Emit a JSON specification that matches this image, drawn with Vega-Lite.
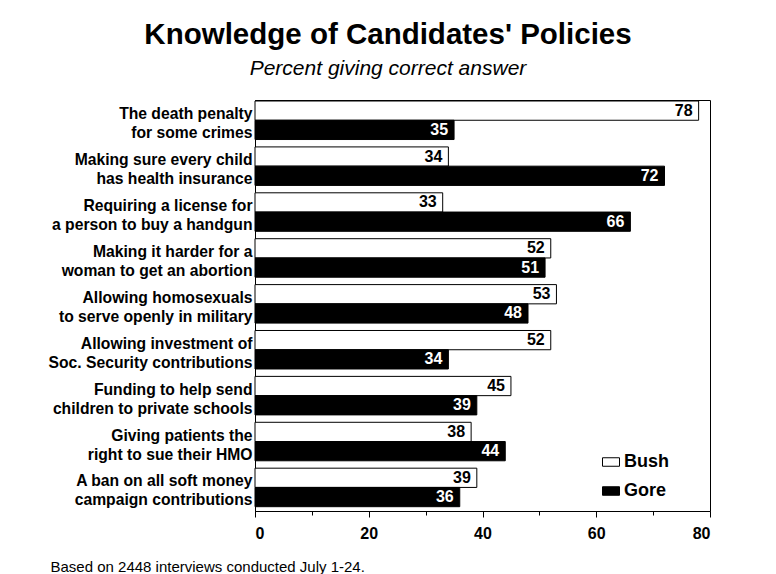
{
  "$schema": "https://vega.github.io/schema/vega-lite/v6.json",
  "width": 455,
  "height": 411,
  "autosize": {"type": "none"},
  "padding": {"left": 255, "top": 100, "right": 66, "bottom": 63},
  "background": "white",
  "title": {
    "text": "Knowledge of Candidates' Policies",
    "subtitle": "Percent giving correct answer",
    "fontSize": 29.5,
    "fontWeight": "bold",
    "subtitleFontSize": 21,
    "subtitleFontStyle": "italic",
    "anchor": "middle",
    "dx": -94.5,
    "offset": 20,
    "color": "black",
    "subtitleColor": "black",
    "subtitlePadding": 8
  },
  "data": {
    "values": [
      {"issue": "The death penalty|for some crimes", "candidate": "Bush", "pct": 78},
      {"issue": "The death penalty|for some crimes", "candidate": "Gore", "pct": 35},
      {"issue": "Making sure every child|has health insurance", "candidate": "Bush", "pct": 34},
      {"issue": "Making sure every child|has health insurance", "candidate": "Gore", "pct": 72},
      {"issue": "Requiring a license for|a person to buy a handgun", "candidate": "Bush", "pct": 33},
      {"issue": "Requiring a license for|a person to buy a handgun", "candidate": "Gore", "pct": 66},
      {"issue": "Making it harder for a|woman to get an abortion", "candidate": "Bush", "pct": 52},
      {"issue": "Making it harder for a|woman to get an abortion", "candidate": "Gore", "pct": 51},
      {"issue": "Allowing homosexuals|to serve openly in military", "candidate": "Bush", "pct": 53},
      {"issue": "Allowing homosexuals|to serve openly in military", "candidate": "Gore", "pct": 48},
      {"issue": "Allowing investment of|Soc. Security contributions", "candidate": "Bush", "pct": 52},
      {"issue": "Allowing investment of|Soc. Security contributions", "candidate": "Gore", "pct": 34},
      {"issue": "Funding to help send|children to private schools", "candidate": "Bush", "pct": 45},
      {"issue": "Funding to help send|children to private schools", "candidate": "Gore", "pct": 39},
      {"issue": "Giving patients the|right to sue their HMO", "candidate": "Bush", "pct": 38},
      {"issue": "Giving patients the|right to sue their HMO", "candidate": "Gore", "pct": 44},
      {"issue": "A ban on all soft money|campaign contributions", "candidate": "Bush", "pct": 39},
      {"issue": "A ban on all soft money|campaign contributions", "candidate": "Gore", "pct": 36}
    ]
  },
  "encoding": {
    "y": {
      "field": "issue",
      "type": "nominal",
      "sort": null,
      "scale": {"paddingInner": 0.161, "paddingOuter": 0.058, "align": 0.19},
      "axis": {
        "title": null,
        "ticks": false,
        "domain": true,
        "domainColor": "black",
        "labelFontSize": 15.7,
        "labelFontWeight": "bold",
        "labelColor": "black",
        "labelLimit": 300,
        "labelPadding": 3,
        "labelOffset": -6,
        "labelExpr": "split(datum.label, '|')",
        "labelLineHeight": 19
      }
    },
    "yOffset": {"field": "candidate", "type": "nominal", "sort": ["Bush", "Gore"]},
    "x": {
      "field": "pct",
      "type": "quantitative",
      "scale": {"domain": [0, 80], "nice": false},
      "axis": {
        "values": [0, 10, 20, 30, 40, 50, 60, 70, 80],
        "labelExpr": "datum.value % 20 === 0 ? datum.label : ''",
        "grid": false,
        "domainColor": "black",
        "tickColor": "black",
        "tickSize": {"condition": {"test": "datum.value % 20 === 0", "value": 6}, "value": 4},
        "labelFontSize": 16,
        "labelFontWeight": "bold",
        "labelColor": "black",
        "labelPadding": 8,
        "title": "Based on 2448 interviews conducted July 1-24.",
        "titleFontSize": 15,
        "titleFontWeight": "normal",
        "titleColor": "black",
        "titleAnchor": "start",
        "titleAlign": "left",
        "titleX": -205,
        "titleY": 60.5,
        "titleBaseline": "alphabetic"
      }
    }
  },
  "layer": [
    {
      "mark": {"type": "bar", "stroke": "black", "strokeWidth": 1},
      "encoding": {
        "color": {
          "field": "candidate",
          "type": "nominal",
          "scale": {"domain": ["Bush", "Gore"], "range": ["white", "black"]},
          "legend": {
            "title": null,
            "orient": "none",
            "legendX": 347,
            "legendY": 353,
            "padding": 0,
            "symbolType": "M-1,-0.5H1V0.5H-1Z",
            "symbolSize": 289,
            "symbolStrokeColor": "black",
            "symbolStrokeWidth": 1,
            "labelFontSize": 18,
            "labelFontWeight": "bold",
            "labelColor": "black",
            "labelOffset": 4,
            "rowPadding": 11
          }
        }
      }
    },
    {
      "mark": {"type": "text", "align": "right", "baseline": "middle", "dx": -6, "fontSize": 16, "fontWeight": "bold"},
      "encoding": {
        "text": {"field": "pct", "type": "quantitative"},
        "color": {"condition": {"test": "datum.candidate === 'Gore'", "value": "white"}, "value": "black"}
      }
    }
  ],
  "config": {
    "font": "Liberation Sans",
    "view": {"stroke": "black", "strokeWidth": 1}
  }
}
